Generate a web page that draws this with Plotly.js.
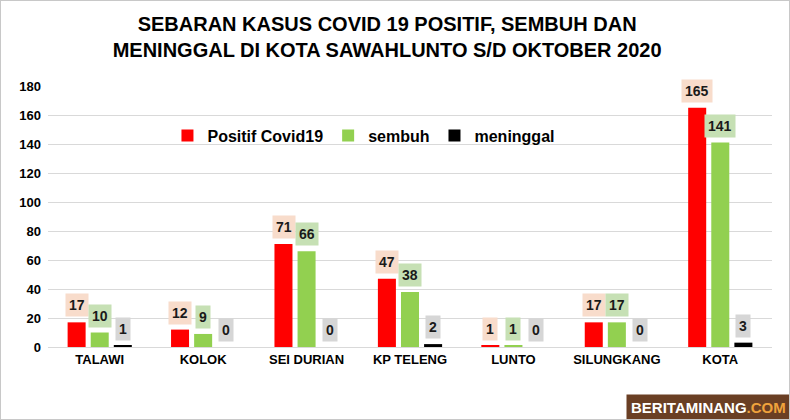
<!DOCTYPE html>
<html>
<head>
<meta charset="utf-8">
<script src="https://cdn.plot.ly/plotly-3.0.1.min.js"></script>
<style>
  html, body { margin: 0; padding: 0; background: #fff; }
  #frame { width: 788px; height: 418px; border: 1px solid #c8c8c8; }
  #chart { width: 788px; height: 418px; }
</style>
</head>
<body>
<div id="frame"><div id="chart"></div></div>
<script>
const categories = ["TALAWI", "KOLOK", "SEI DURIAN", "KP TELENG", "LUNTO", "SILUNGKANG", "KOTA"];
const positif = [17, 12, 71, 47, 1, 17, 165];
const sembuh = [10, 9, 66, 38, 1, 17, 141];
const meninggal = [1, 0, 0, 2, 0, 0, 3];
const seriesNames = ["Positif Covid19", "sembuh", "meninggal"];
const yTicks = [0, 20, 40, 60, 80, 100, 120, 140, 160, 180];

const FONT = "Liberation Sans, Arial, sans-serif";
const barColors = ["#ff0000", "#92d050", "#000000"];
const labelBg = ["#f8dccb", "#c6e0b4", "#d6d6d6"];
const seriesData = [positif, sembuh, meninggal];

const traces = seriesData.map((vals, i) => ({
  type: "bar",
  name: seriesNames[i],
  x: categories,
  y: vals,
  marker: { color: barColors[i] },
  hoverinfo: "x+y+name"
}));

const annotations = [];
seriesData.forEach((vals, i) => {
  vals.forEach((v, j) => {
    annotations.push({
      x: categories[j], y: v, xref: "x", yref: "y",
      text: "<b>" + v + "</b>",
      showarrow: false,
      xshift: (i - 1) * 23,
      yshift: 5,
      yanchor: "bottom",
      bgcolor: labelBg[i],
      borderpad: 3,
      font: { family: FONT, size: 14, color: "#1a1a1a" }
    });
  });
});

annotations.push({
  xref: "paper", yref: "paper",
  x: 1 + 19 / 724, y: -74 / 261,
  xanchor: "right", yanchor: "bottom",
  showarrow: false,
  text: "<b>BERITAMINANG<span style='color:#f0a33c'>.COM</span></b>",
  bgcolor: "#6a3f24",
  borderpad: 4,
  font: { family: FONT, size: 15, color: "#ffffff" }
});

const layout = {
  width: 788, height: 418,
  paper_bgcolor: "#ffffff",
  plot_bgcolor: "#ffffff",
  margin: { l: 47, r: 17, t: 85, b: 72 },
  title: {
    text: "<b>SEBARAN KASUS COVID 19 POSITIF, SEMBUH DAN<br>MENINGGAL DI KOTA SAWAHLUNTO S/D OKTOBER 2020</b>",
    font: { family: "Liberation Sans Narrow, Arial Narrow, " + FONT, size: 20, color: "#000" },
    x: 0.49, xanchor: "center",
    y: 0.928, yanchor: "middle"
  },
  barmode: "group",
  bargap: 0.33,
  bargroupgap: 0.22,
  showlegend: true,
  legend: {
    orientation: "h",
    x: 0.165, xanchor: "left",
    y: 0.81, yanchor: "middle",
    bgcolor: "rgba(0,0,0,0)",
    font: { family: FONT, size: 16, color: "#000", weight: "bold" },
    itemclick: false
  },
  xaxis: {
    type: "category",
    tickfont: { family: FONT, size: 13, color: "#000", weight: "bold" },
    showline: true, linecolor: "#d9d9d9", linewidth: 1,
    ticks: "", showgrid: false
  },
  yaxis: {
    range: [0, 180],
    tickvals: yTicks,
    ticktext: yTicks.map(String),
    tickfont: { family: FONT, size: 13, color: "#000", weight: "bold" },
    showgrid: true, gridcolor: "#d9d9d9", gridwidth: 1,
    zeroline: true, zerolinecolor: "#d9d9d9",
    ticks: "", ticklabelstandoff: 6
  },
  annotations: annotations
};

Plotly.newPlot("chart", traces, layout, { displayModeBar: false, responsive: false });
</script>
</body>
</html>
